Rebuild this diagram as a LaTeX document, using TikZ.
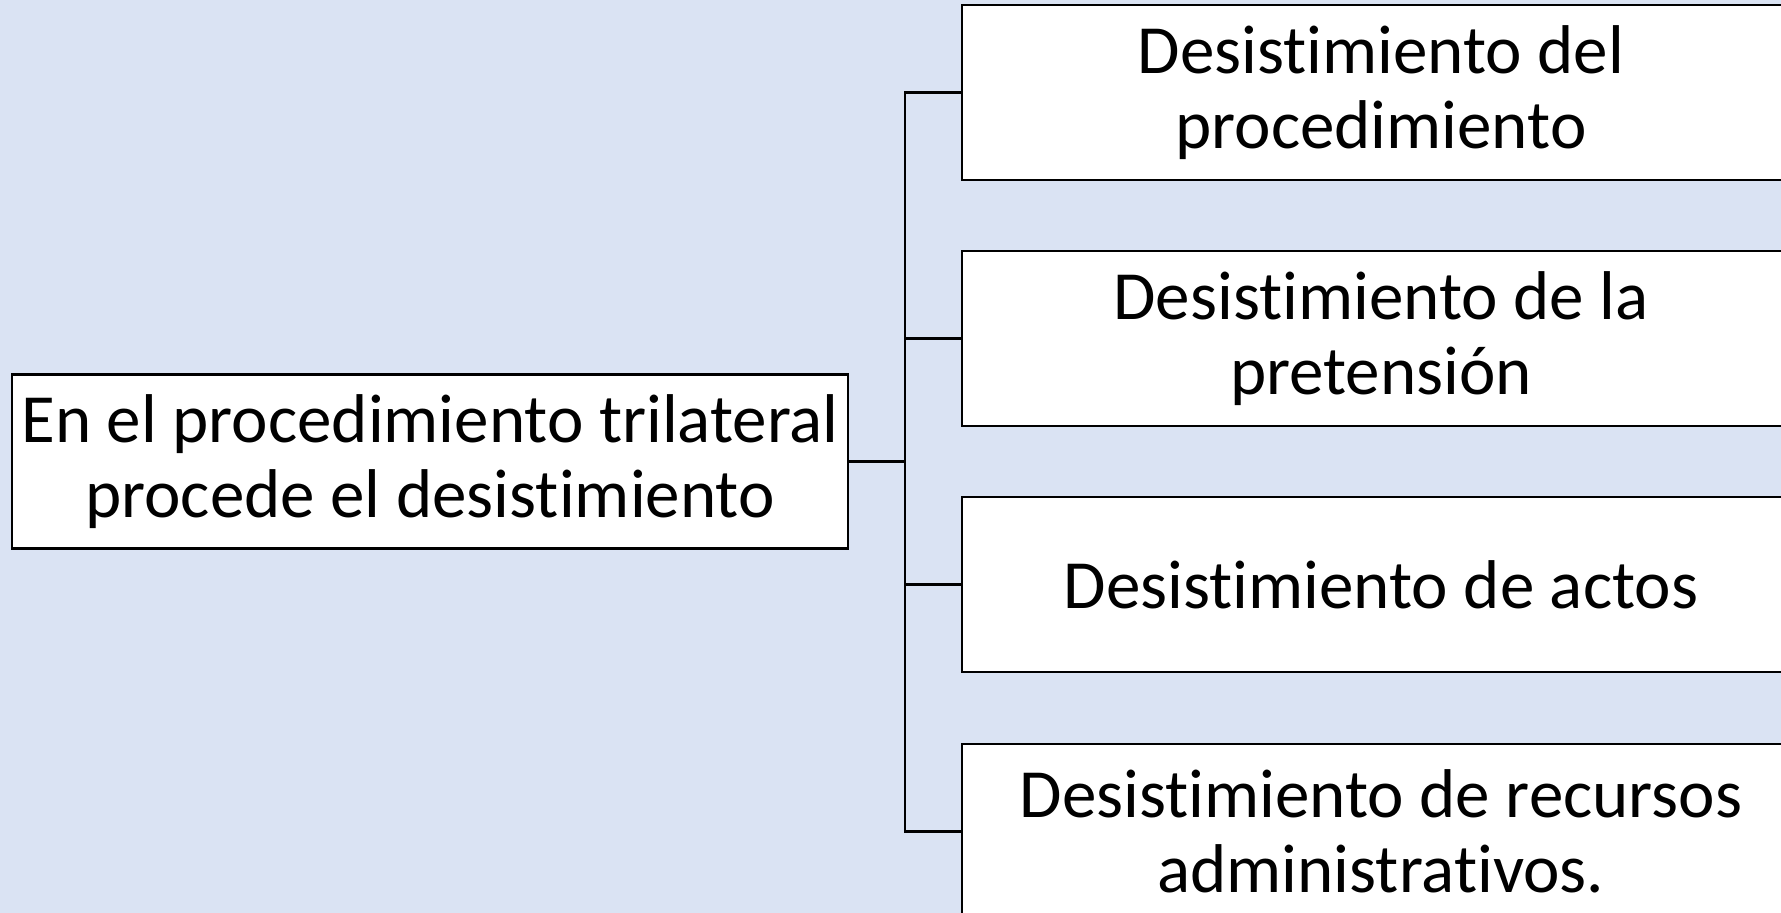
\documentclass[tikz,border=0pt]{standalone}
\usepackage{fontspec}
\setmainfont{Carlito}[RawFeature={-liga}]
\definecolor{bg}{HTML}{DAE3F3}
\begin{document}
\begin{tikzpicture}[x=1pt,y=-1pt,
  txt/.style={font=\fontsize{69}{75}\selectfont,align=center,inner sep=0pt},
  box/.style={draw=black,line width=2.2pt,fill=white,align=center,inner sep=0pt},
  conn/.style={draw=black,line width=2.6pt}]
\fill[bg] (0,0) rectangle (1781,913);
\useasboundingbox (0,0) rectangle (1781,913);
\node[box,txt,minimum width=836pt,minimum height=174pt] (L) at (430,461.5) {En el procedimiento trilateral\\procede el desistimiento};
\begin{scope}
\clip (0,0) rectangle (1781,913);
\node[box,minimum width=880pt,minimum height=175pt] (R1) at (1402,92.5) {};
\node[box,minimum width=880pt,minimum height=175pt] (R2) at (1402,338.5) {};
\node[box,minimum width=880pt,minimum height=175pt] (R3) at (1402,584.5) {};
\node[box,minimum width=880pt,minimum height=175pt] (R4) at (1402,831.5) {};
\end{scope}
\node[txt] (T1) at (1381,92.5) {Desistimiento del\\procedimiento};
\node[txt] (T2) at (1381,338.5) {Desistimiento de la\\pretensión};
\node[txt] (T3) at (1381,584.5) {Desistimiento de actos};
\node[txt] (T4) at (1381,831.5) {Desistimiento de recursos\\administrativos.};
\coordinate (J) at (905,461.5);
\draw[conn] (L.east) -- (J);
\draw[conn] (R1.west) -| (J);
\draw[conn] (R4.west) -| (J);
\draw[conn] (R2.west) -- (R2.west -| J);
\draw[conn] (R3.west) -- (R3.west -| J);
\end{tikzpicture}
\end{document}
